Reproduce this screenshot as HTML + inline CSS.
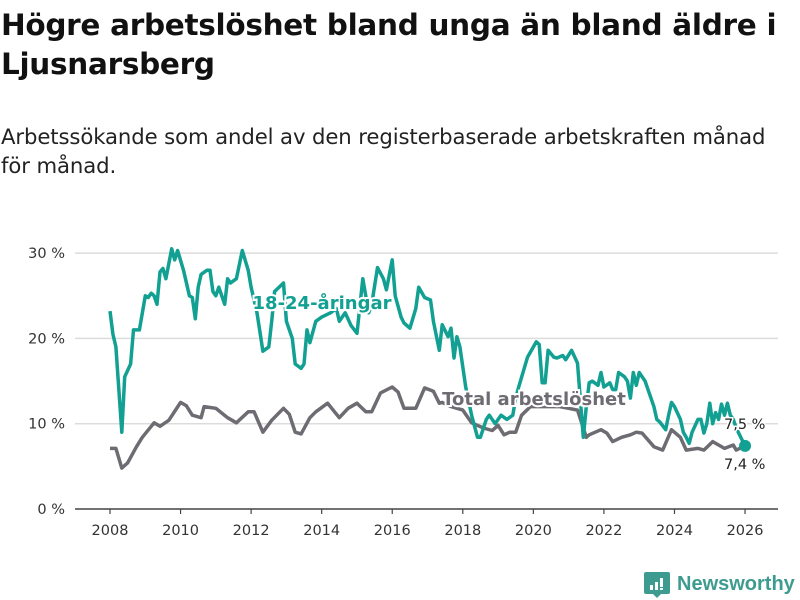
<!DOCTYPE html>
<html><head><meta charset="utf-8">
<style>
body{margin:0;width:800px;height:600px;background:#fff;overflow:hidden;font-family:"DejaVu Sans","Liberation Sans",sans-serif;}
h1{position:absolute;left:1px;top:6px;margin:0;font-size:29.5px;line-height:39px;font-weight:bold;color:#111;width:800px;letter-spacing:-0.3px;}
.sub{position:absolute;left:1px;top:122px;margin:0;font-size:21.2px;line-height:29px;color:#222;width:800px;letter-spacing:-0.1px;}
svg{position:absolute;left:0;top:0;}
</style></head><body>
<h1>Högre arbetslöshet bland unga än bland äldre i<br>Ljusnarsberg</h1>
<p class="sub">Arbetssökande som andel av den registerbaserade arbetskraften månad<br>för månad.</p>
<svg id="chart" width="800" height="600" font-family="DejaVu Sans, sans-serif"></svg>
<script>
const yTicks=[0,10,20,30];
const xTicks=[2008,2010,2012,2014,2016,2018,2020,2022,2024,2026];
const youthMonths=[0,1,2,4,5,7,8,10,12,13,14,15,16,17,18,19,21,22,23,25,27,28,29,30,31,33,34,35,36,37,39,40,41,43,45,47,48,50,52,54,55,56,59,60,62,63,65,66,67,68,70,72,75,77,78,80,82,84,86,88,89,91,93,94,96,97,99,100,102,104,105,107,109,110,112,113,115,116,117,118,119,121,123,125,126,128,129,131,133,135,137,138,139,142,145,146,147,148,149,151,152,154,155,157,159,161,162,163,164,166,167,168,170,171,172,173,175,176,177,178,179,180,182,183,185,186,187,189,190,191,192,194,195,196,197,198,200,201,202,203,204,205,206,207,208,209,210,211,212,213,216];
const youthValues=[23.2,20.5,19,9,15.5,17,21,21,25,24.8,25.3,25,24,27.8,28.2,27,30.5,29.2,30.3,28,25,24.8,22.3,26,27.5,28,28,25.5,25,26,24,27,26.5,27,30.3,28,26,23,18.5,19,22,25.5,26.5,22,20,17,16.5,17,21,19.5,22,22.5,23,23.5,22,23,21.5,20.6,27,23,24,28.3,27,25.7,29.2,25,22.5,21.8,21.2,23.5,26,24.8,24.5,22,18.6,21.6,20.2,21.2,17.7,20.2,19,14.3,11,8.4,8.4,10.5,11,10,11,10.5,11,13,14.3,17.8,19.6,19.3,14.8,14.8,18.6,17.8,17.7,18,17.5,18.6,17.1,8.4,12,14.8,15,14.5,16,14.3,14.8,14,14,16,15.5,15,13,16,14.5,16,15,14,12,10.5,10.2,9.3,11,12.5,12,10.5,9,8.4,7.7,9,10.5,10.5,8.9,10,12.4,10,11.3,10.5,12.3,11,12.4,11,10.5,9.5,7.4];
const totalMonths=[0,2,4,6,9,11,15,17,20,24,26,28,31,32,36,40,43,47,49,52,55,59,61,63,65,68,70,74,78,81,84,87,89,92,96,98,100,104,107,110,112,113,116,118,120,123,127,130,132,134,136,138,140,143,146,150,153,156,159,162,163,167,169,171,174,177,179,181,185,188,191,194,196,200,202,205,209,212,213,216];
const totalValues=[7.1,7.1,4.8,5.4,7.3,8.4,10.1,9.7,10.4,12.5,12.1,11,10.7,12,11.8,10.7,10.1,11.4,11.4,9,10.4,11.8,11.1,9,8.8,10.7,11.4,12.4,10.7,11.8,12.4,11.4,11.4,13.6,14.3,13.7,11.8,11.8,14.2,13.8,12.4,12.5,12,11.8,11.6,10.1,9.5,9.2,9.8,8.7,9,9,11,12,12,12,12,11.8,11.6,8.4,8.7,9.3,8.9,7.9,8.4,8.7,9,8.9,7.3,6.9,9.3,8.4,6.9,7.1,6.9,7.9,7.1,7.5,6.9,7.4];
const youthLast="7,5 %", totalLast="7,4 %";

const NS="http://www.w3.org/2000/svg";
const svg=document.getElementById('chart');
const x0=110,pxPerYear=35.28,y0=509,pxPerUnit=8.53;
function xScale(year){return x0+(year-2008)*pxPerYear;}
function xMonth(m){return xScale(2008+m/12);}
function yScale(v){return y0-v*pxPerUnit;}
function mk(tag,attrs,txt){const e=document.createElementNS(NS,tag);for(const k in attrs)e.setAttribute(k,attrs[k]);if(txt!==undefined)e.textContent=txt;svg.appendChild(e);return e;}

yTicks.forEach(t=>{
  if(t>0){const g=mk('line',{x1:75,x2:778,y1:yScale(t),y2:yScale(t),stroke:'#dcdcdc','stroke-width':1.5});
  
  }
  const l=mk('text',{x:65,y:yScale(t)+5,'text-anchor':'end','font-size':14.5,fill:'#333'},t+' %');
  
  
});
const ax=mk('line',{x1:75,x2:778,y1:y0,y2:y0,stroke:'#444','stroke-width':1.5});


xTicks.forEach(t=>{
  const tk=mk('line',{x1:xScale(t),x2:xScale(t),y1:y0,y2:y0+5,stroke:'#444','stroke-width':1.2});
  
  
  const l=mk('text',{x:xScale(t),y:535,'text-anchor':'middle','font-size':14.5,fill:'#333'},String(t));
  
  
});
function path(ms,vs){return ms.map((m,i)=>(i?'L':'M')+xMonth(m).toFixed(1)+','+yScale(vs[i]).toFixed(1)).join('');}
const tl=mk('path',{d:path(totalMonths,totalValues),fill:'none',stroke:'#6e6c72','stroke-width':3.5,'stroke-linejoin':'round'});


const yl=mk('path',{d:path(youthMonths,youthValues),fill:'none',stroke:'#12a093','stroke-width':3.5,'stroke-linejoin':'round'});


const lastM=youthMonths[youthMonths.length-1];
const dot=mk('circle',{cx:xMonth(lastM),cy:yScale(youthValues[youthValues.length-1]),r:6,fill:'#12a093'});


const ylab=mk('text',{x:322,y:309,'text-anchor':'middle','font-size':18,'font-weight':'bold',fill:'#12a093',stroke:'#fff','stroke-width':4,'paint-order':'stroke'},'18-24-åringar');


const tlab=mk('text',{x:534,y:405,'text-anchor':'middle','font-size':18,'font-weight':'bold',fill:'#6e6c72',stroke:'#fff','stroke-width':4,'paint-order':'stroke'},'Total arbetslöshet');


const v1=mk('text',{x:724,y:429,'font-size':14.5,fill:'#222',stroke:'#fff','stroke-width':3,'paint-order':'stroke'},youthLast);


const v2=mk('text',{x:724,y:469,'font-size':14.5,fill:'#222',stroke:'#fff','stroke-width':3,'paint-order':'stroke'},totalLast);


</script>
<svg width="800" height="600" style="pointer-events:none">
  <path d="M646,572 h22 a2,2 0 0 1 2,2 v18 a2,2 0 0 1 -2,2 h-7 l-4,4 l-4,-4 h-7 a2,2 0 0 1 -2,-2 v-18 a2,2 0 0 1 2,-2z" fill="#3d9c8f"/>
  <rect x="650" y="585" width="3" height="5" fill="#fff"/><rect x="655" y="582" width="3" height="8" fill="#fff"/><rect x="660" y="578" width="3" height="9" fill="#fff"/><rect x="660" y="588" width="3" height="2" fill="#fff"/>
  <text x="677" y="590" font-size="20" font-weight="bold" fill="#3d9c8f" font-family="Liberation Sans, sans-serif">Newsworthy</text>
</svg>
</body></html>
